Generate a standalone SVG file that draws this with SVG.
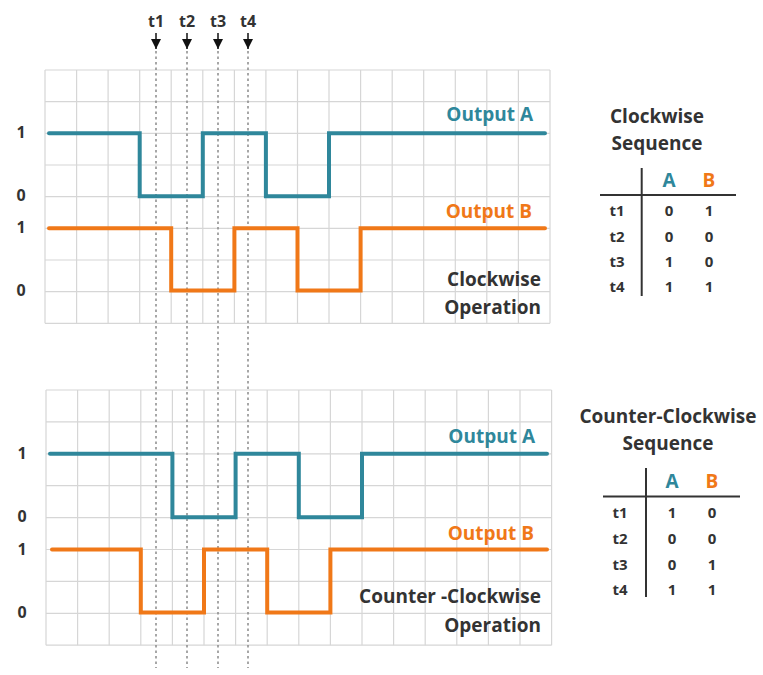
<svg xmlns="http://www.w3.org/2000/svg" width="763" height="675" viewBox="0 0 763 675">
<defs>
<style>
.grid{stroke:#d6d6d6;stroke-width:1.2;fill:none}
.sa{stroke:#2F879B;stroke-width:4;fill:none;stroke-linecap:round;stroke-linejoin:miter}
.sb{stroke:#F07818;stroke-width:4;fill:none;stroke-linecap:round;stroke-linejoin:miter}
.dot{stroke:#8a8a8a;stroke-width:1.5;stroke-dasharray:2.5,3;fill:none}
text{font-family:"Open Sans","Liberation Sans",sans-serif;font-weight:bold}
.lbl{font-size:19px}
.ax{font-size:16px;fill:#333}
.ta{fill:#2F879B}
.tb{fill:#F07818}
.dk{fill:#333}
.tv{font-size:15px;fill:#333;text-anchor:middle}
.th{font-size:19px;text-anchor:middle}
.tl{stroke:#333;stroke-width:2;fill:none}
.arr{stroke:#111;stroke-width:1.5;fill:none}
</style>
<marker id="ah" viewBox="0 0 10 10" refX="10" refY="5" markerWidth="13" markerHeight="10" markerUnits="userSpaceOnUse" orient="auto">
<path d="M0,0 L10,5 L0,10 Z" fill="#111"/>
</marker>
</defs>
<rect width="763" height="675" fill="#fff"/>

<g id="grid-top" class="grid">
<path d="M45,70V323.3M76.6,70V323.3M108.1,70V323.3M139.7,70V323.3M171.2,70V323.3M202.8,70V323.3M234.4,70V323.3M265.9,70V323.3M297.5,70V323.3M329,70V323.3M360.6,70V323.3M392.2,70V323.3M423.7,70V323.3M455.3,70V323.3M486.8,70V323.3M518.4,70V323.3M550,70V323.3"/>
<path d="M45,70H550M45,101.7H550M45,133.3H550M45,165H550M45,196.6H550M45,228.3H550M45,260H550M45,291.6H550M45,323.3H550"/>
</g>
<g id="grid-bottom" class="grid">
<path d="M46,390V645.2M77.6,390V645.2M109.2,390V645.2M140.8,390V645.2M172.4,390V645.2M204,390V645.2M235.6,390V645.2M267.2,390V645.2M298.8,390V645.2M330.4,390V645.2M362,390V645.2M393.6,390V645.2M425.2,390V645.2M456.8,390V645.2M488.4,390V645.2M520,390V645.2M551.6,390V645.2"/>
<path d="M46,390H551.6M46,421.9H551.6M46,453.8H551.6M46,485.7H551.6M46,517.6H551.6M46,549.5H551.6M46,581.4H551.6M46,613.3H551.6M46,645.2H551.6"/>
</g>

<g id="connectors">
<g id="time-markers">
<line class="arr" x1="156" y1="33" x2="156" y2="49" marker-end="url(#ah)"/>
<line class="arr" x1="187" y1="33" x2="187" y2="49" marker-end="url(#ah)"/>
<line class="arr" x1="218" y1="33" x2="218" y2="49" marker-end="url(#ah)"/>
<line class="arr" x1="248" y1="33" x2="248" y2="49" marker-end="url(#ah)"/>
<line class="dot" x1="156" y1="51" x2="156" y2="668"/>
<line class="dot" x1="187" y1="51" x2="187" y2="668"/>
<line class="dot" x1="218" y1="51" x2="218" y2="668"/>
<line class="dot" x1="248" y1="51" x2="248" y2="668"/>
</g>
<g id="signals-top">
<polyline class="sa" points="49,133.3 139.7,133.3 139.7,196.2 202.8,196.2 202.8,133.3 265.9,133.3 265.9,196.2 329,196.2 329,133.3 545,133.3"/>
<polyline class="sb" points="49,228.3 171.2,228.3 171.2,290.5 234.4,290.5 234.4,228.3 297.5,228.3 297.5,290.5 360.6,290.5 360.6,228.3 545,228.3"/>
</g>
<g id="signals-bottom">
<polyline class="sa" points="50,453.8 172.4,453.8 172.4,517.2 235.6,517.2 235.6,453.8 298.8,453.8 298.8,517.2 362,517.2 362,453.8 547,453.8"/>
<polyline class="sb" points="52,549.5 140.8,549.5 140.8,612.5 204,612.5 204,549.5 267.2,549.5 267.2,612.5 330.4,612.5 330.4,549.5 547,549.5"/>
</g>
</g>

<g id="time-labels">
<text x="156" y="27" class="ax" text-anchor="middle">t1</text>
<text x="187" y="27" class="ax" text-anchor="middle">t2</text>
<text x="218" y="27" class="ax" text-anchor="middle">t3</text>
<text x="248" y="27" class="ax" text-anchor="middle">t4</text>
</g>

<g id="axis-labels">
<text class="ax" x="21" y="138" text-anchor="middle">1</text>
<text class="ax" x="21" y="201" text-anchor="middle">0</text>
<text class="ax" x="21" y="233" text-anchor="middle">1</text>
<text class="ax" x="21" y="296" text-anchor="middle">0</text>
<text class="ax" x="22" y="459" text-anchor="middle">1</text>
<text class="ax" x="22" y="522" text-anchor="middle">0</text>
<text class="ax" x="22" y="555" text-anchor="middle">1</text>
<text class="ax" x="22" y="618" text-anchor="middle">0</text>
</g>

<g id="labels-top">
<text class="lbl ta" x="533" y="121" text-anchor="end">Output A</text>
<text class="lbl tb" x="532" y="218" text-anchor="end">Output B</text>
<text class="lbl dk" x="541" y="286" text-anchor="end">Clockwise</text>
<text class="lbl dk" x="541" y="314" text-anchor="end">Operation</text>
</g>
<g id="labels-bottom">
<text class="lbl ta" x="535" y="443" text-anchor="end">Output A</text>
<text class="lbl tb" x="534" y="540" text-anchor="end">Output B</text>
<text class="lbl dk" x="541" y="603" text-anchor="end">Counter -Clockwise</text>
<text class="lbl dk" x="541" y="632" text-anchor="end">Operation</text>
</g>

<g id="table-cw">
<text class="th dk" x="657" y="123">Clockwise</text>
<text class="th dk" x="657" y="150">Sequence</text>
<line class="tl" x1="641.7" y1="168" x2="641.7" y2="296"/>
<line class="tl" x1="600" y1="195" x2="736" y2="195"/>
<text class="th ta" x="669" y="187">A</text>
<text class="th tb" x="709" y="187">B</text>
<text class="tv" x="617" y="216">t1</text><text class="tv" x="669" y="216">0</text><text class="tv" x="709" y="216">1</text>
<text class="tv" x="617" y="242">t2</text><text class="tv" x="669" y="242">0</text><text class="tv" x="709" y="242">0</text>
<text class="tv" x="617" y="267">t3</text><text class="tv" x="669" y="267">1</text><text class="tv" x="709" y="267">0</text>
<text class="tv" x="617" y="292">t4</text><text class="tv" x="669" y="292">1</text><text class="tv" x="709" y="292">1</text>
</g>

<g id="table-ccw">
<text class="th dk" x="668" y="423">Counter-Clockwise</text>
<text class="th dk" x="668" y="450">Sequence</text>
<line class="tl" x1="646" y1="468" x2="646" y2="597"/>
<line class="tl" x1="603" y1="496.5" x2="740" y2="496.5"/>
<text class="th ta" x="672" y="488">A</text>
<text class="th tb" x="712" y="488">B</text>
<text class="tv" x="620" y="518">t1</text><text class="tv" x="672" y="518">1</text><text class="tv" x="712" y="518">0</text>
<text class="tv" x="620" y="544">t2</text><text class="tv" x="672" y="544">0</text><text class="tv" x="712" y="544">0</text>
<text class="tv" x="620" y="570">t3</text><text class="tv" x="672" y="570">0</text><text class="tv" x="712" y="570">1</text>
<text class="tv" x="620" y="595">t4</text><text class="tv" x="672" y="595">1</text><text class="tv" x="712" y="595">1</text>
</g>
</svg>
